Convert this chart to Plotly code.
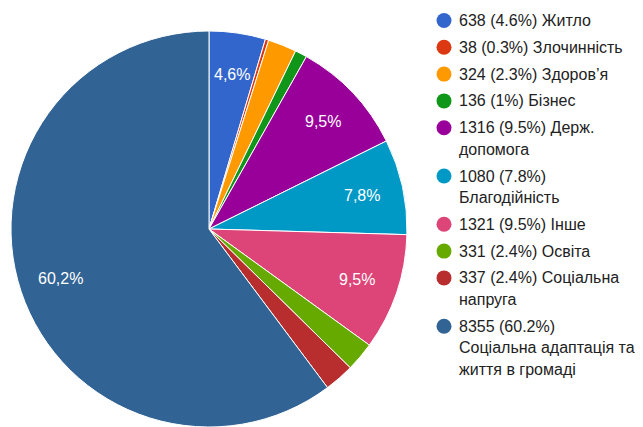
import math
import plotly.graph_objects as go

categories = ["Житло", "Злочинність", "Здоров’я", "Бізнес", "Держ. допомога",
              "Благодійність", "Інше", "Освіта", "Соціальна напруга",
              "Соціальна адаптація та життя в громаді"]
values = [638, 38, 324, 136, 1316, 1080, 1321, 331, 337, 8355]
legend_pct = ["4.6%", "0.3%", "2.3%", "1%", "9.5%", "7.8%", "9.5%", "2.4%", "2.4%", "60.2%"]
legend_lines = [
    ["638 (4.6%) Житло"],
    ["38 (0.3%) Злочинність"],
    ["324 (2.3%) Здоров’я"],
    ["136 (1%) Бізнес"],
    ["1316 (9.5%) Держ.", "допомога"],
    ["1080 (7.8%)", "Благодійність"],
    ["1321 (9.5%) Інше"],
    ["331 (2.4%) Освіта"],
    ["337 (2.4%) Соціальна", "напруга"],
    ["8355 (60.2%)", "Соціальна адаптація та", "життя в громаді"],
]
colors = ["#3366cc", "#dc3912", "#ff9900", "#109618", "#990099",
          "#0099c6", "#dd4477", "#66aa00", "#b82e2e", "#316395"]

W, H = 643, 427
# pie placement in figure pixels (page adds an 8px body margin)
CX, CY, R = 201, 221, 198
total = sum(values)

fig = go.Figure()
fig.add_trace(go.Pie(
    labels=categories, values=values, textinfo="none",
    sort=False, direction="clockwise", rotation=0,
    marker=dict(colors=colors, line=dict(color="white", width=1)),
    showlegend=False, hoverinfo="label+value+percent",
    domain=dict(x=[(CX - R) / W, (CX + R) / W],
                y=[1 - (CY + R) / H, 1 - (CY - R) / H]),
))

annotations = []
# slice percentage labels (only for slices big enough), placed at slice mid-angle
cum = 0
for v in values:
    frac = v / total
    mid = (cum + frac / 2) * 2 * math.pi
    cum += frac
    if frac * 100 < 4:
        continue
    rr = 0.79 * R
    annotations.append(dict(
        x=CX + rr * math.sin(mid), y=CY - rr * math.cos(mid), xref="x", yref="y",
        text=f"{frac * 100:.1f}%".replace(".", ","), showarrow=False,
        font=dict(family="Arial", size=16, color="white"),
        xanchor="center", yanchor="middle"))

# custom legend with circle markers
LX_MARK, LX_TEXT, LY0, STEP, LINE = 436, 448.5, 12.5, 26.8, 21.5
mx, my = [], []
y = LY0
for lines in legend_lines:
    mx.append(LX_MARK)
    my.append(y)
    for j, t in enumerate(lines):
        annotations.append(dict(
            x=LX_TEXT, y=y + j * LINE, xref="x", yref="y", text=t, showarrow=False,
            font=dict(family="Arial", size=16, color="#222222"),
            xanchor="left", yanchor="middle"))
    y += STEP + LINE * (len(lines) - 1)

fig.add_trace(go.Scatter(
    x=mx, y=my, mode="markers", showlegend=False, hoverinfo="skip",
    marker=dict(symbol="circle", size=15, color=colors, line=dict(width=0)),
))

fig.update_layout(
    width=W, height=H, margin=dict(l=0, r=0, t=0, b=0),
    paper_bgcolor="white", plot_bgcolor="rgba(0,0,0,0)",
    xaxis=dict(visible=False, range=[0, W], domain=[0, 1], fixedrange=True),
    yaxis=dict(visible=False, range=[H, 0], domain=[0, 1], fixedrange=True),
    font=dict(family="Arial", size=16, color="#222222"),
    annotations=annotations, showlegend=False,
)
fig.write_html("out.html")
